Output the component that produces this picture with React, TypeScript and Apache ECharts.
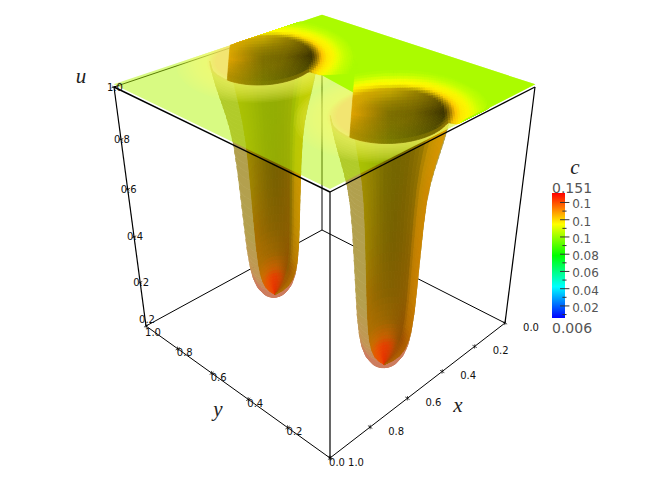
import React, { useEffect, useRef } from "react";
import * as echarts from "echarts";

// ---------- values ----------
const xTicks = [0, 0.2, 0.4, 0.6, 0.8, 1];
const yTicks = [0, 0.2, 0.4, 0.6, 0.8, 1];
const uTicks = [0.2, 0.4, 0.6, 0.8, 1];
const uBottomLabel = "0.2";
const cMajor = [0.02, 0.04, 0.06, 0.08, 0.1, 0.12, 0.14];
const cMajorLabels = ["0.02", "0.04", "0.06", "0.08", "0.1", "0.1", "0.1"];
const cMinor = [0.01, 0.03, 0.05, 0.07, 0.09, 0.11, 0.13];
const cMin = 0.006;
const cMax = 0.151;
// well centres in (x, y), their lean with depth, and how their mouths look
const wellX = [0.48, 0.515];
const wellY = [0.818, 0.195];
const leanX = [0.0016, -0.0113];
const leanY = [-0.0127, -0.0056];
const wellA = [263, 293];
const wellB = [122, 137];
const wellTilt = [-0.05, -0.03];
const rightGold = [1.14, 1.0];
const rimDrop = [0.75, 0.4];
// radial profile of a well: height u and radius r
const profileU = [1.01, 0.97, 0.93, 0.88, 0.82, 0.75, 0.68, 0.58, 0.45, 0.33, 0.22, 0.14, 0.09, 0.05, 0.02, 0, -0.015];
const profileR = [0.205, 0.198, 0.19, 0.178, 0.163, 0.148, 0.138, 0.13, 0.123, 0.117, 0.111, 0.103, 0.094, 0.08, 0.06, 0.034, 0.001];
// colour of the inner (double) part of the wall, by height and screen position
const wallS = [-1, -0.7, -0.35, 0, 0.35, 0.65, 0.82, 1];
const wallZ = [-0.02, 0.03, 0.06, 0.12, 0.25, 0.45, 0.7, 1.01];
const wallColors = [
  ["#f04a00", "#f04000", "#e83000", "#e03000", "#d83800", "#c04000", "#a85000", "#b06000"],
  ["#e06000", "#e85000", "#e84000", "#e04000", "#c84800", "#a05000", "#a05000", "#b06000"],
  ["#c87000", "#c86800", "#c86000", "#c06000", "#a85800", "#905000", "#a05000", "#b06000"],
  ["#b07000", "#a86c00", "#a06800", "#986400", "#905c00", "#905400", "#b06a00", "#c07000"],
  ["#a87000", "#966a00", "#8a6400", "#846000", "#865e00", "#8c5e00", "#bc7800", "#c88000"],
  ["#a08400", "#907400", "#806800", "#786000", "#7e6000", "#8a6400", "#c08000", "#cc8400"],
  ["#a08c00", "#8f7e00", "#7a6c00", "#746500", "#7a6400", "#8c6e00", "#c08a00", "#d08a00"],
  ["#a89000", "#958000", "#7e6c00", "#756500", "#7c6800", "#9a7e00", "#c89a00", "#dca000"],
];
const tanZ = [-0.02, 0.04, 0.12, 0.3, 1.01];
const tanColors = ["#cd7d5f", "#cd7d5f", "#c39655", "#b4a04e", "#b0a04e"];
// colour of the mouth, by radius fraction and direction (right, up, left, down)
const mouthRF = [0, 0.4, 0.7, 0.9, 1, 1.08, 1.18, 1.28, 1.38, 1.5, 1.7];
const mouthColors = [
  ["#7c6e00", "#7c6e00", "#7c6e00", "#7c6e00"],
  ["#706000", "#968000", "#be9000", "#7c7200"],
  ["#504400", "#b89c00", "#e8a800", "#787400"],
  ["#3a3000", "#c8a800", "#f0a800", "#787800"],
  ["#a07800", "#e0d000", "#f8b000", "#808000"],
  ["#ffc000", "#f8f000", "#ffb800", "#d8c800"],
  ["#ffe800", "#ffff00", "#ffd800", "#ffe400"],
  ["#fff400", "#f0ff00", "#ffff00", "#f0ff00"],
  ["#e8ff00", "#d8ff00", "#e8ff00", "#d8ff00"],
  ["#c8ff00", "#c0ff00", "#c8ff00", "#c0ff00"],
  ["#abfb00", "#abfb00", "#abfb00", "#abfb00"],
];
const haloRF = [1.6, 1.55, 1.5, 1.45, 1.4, 1.35, 1.3, 1.25, 1.2, 1.15, 1.1, 1.05];
const peachRF = [1.05, 1.02, 0.99, 0.96, 0.93, 0.9];

// ---------- perspective box ----------
type Pt = number[];
const boxCorners: { k: number[]; p: Pt }[] = [
  { k: [0, 0, 0], p: [330, 458] },
  { k: [1, 0, 0], p: [505, 323] },
  { k: [0, 1, 0], p: [146, 326] },
  { k: [1, 1, 0], p: [322, 230] },
  { k: [0, 0, 1], p: [330, 192] },
  { k: [1, 0, 1], p: [535, 87] },
  { k: [0, 1, 1], p: [114, 87] },
  { k: [1, 1, 1], p: [322, 17] },
];
function project(x: number, y: number, z: number): Pt {
  const a = 1 - x, b = y, c = z;
  let sx = 0, sy = 0, sw = 0;
  for (const { k, p } of boxCorners) {
    const basis = (k[0] ? a : 1 - a) * (k[1] ? b : 1 - b) * (k[2] ? c : 1 - c);
    const w = 1 + 0.19 * k[0] + 0.2 * k[1] - 0.13 * k[2];
    sx += basis * w * p[0];
    sy += basis * w * p[1];
    sw += basis * w;
  }
  return [sx / sw, sy / sw];
}

// ---------- helpers ----------
const hex = (h: string) => [parseInt(h.slice(1, 3), 16), parseInt(h.slice(3, 5), 16), parseInt(h.slice(5, 7), 16)];
const mix = (p: number[], q: number[], t: number) => p.map((v, i) => v + (q[i] - v) * t);
const css = (c: number[]) => `rgb(${Math.round(c[0])},${Math.round(Math.min(255, c[1]))},${Math.round(c[2])})`;
function locate(keys: number[], v: number): [number, number] {
  if (v <= keys[0]) return [0, 0];
  for (let i = 0; i < keys.length - 1; i++) {
    if (v <= keys[i + 1]) return [i, (v - keys[i]) / (keys[i + 1] - keys[i])];
  }
  return [keys.length - 2, 1];
}
function wallColor(z: number, s: number, gold: number) {
  const [i, t] = locate(wallZ, z);
  const [j, u] = locate(wallS, s);
  const c = mix(
    mix(hex(wallColors[i][j]), hex(wallColors[i][j + 1]), u),
    mix(hex(wallColors[i + 1][j]), hex(wallColors[i + 1][j + 1]), u),
    t
  );
  if (s > 0.6) c[1] *= gold;
  return c;
}
function tanColor(z: number) {
  const [i, t] = locate(tanZ, z);
  return mix(hex(tanColors[i]), hex(tanColors[i + 1]), t);
}
function mouthColor(rf: number, deg: number) {
  const [i, t] = locate(mouthRF, rf);
  const a = ((deg % 360) + 360) % 360;
  const j = Math.min(3, Math.floor(a / 90));
  const v = a / 90 - j;
  const j2 = (j + 1) % 4;
  return mix(
    mix(hex(mouthColors[i][j]), hex(mouthColors[i][j2]), v),
    mix(hex(mouthColors[i + 1][j]), hex(mouthColors[i + 1][j2]), v),
    t
  );
}
const plateZ = 1.01;
// local frame on the plate: moving along Eh is screen-right, along Ev screen-down
function localFrame(w: number) {
  const h = 0.001;
  const c = project(wellX[w], wellY[w], 1);
  const px = project(wellX[w] + h, wellY[w], 1);
  const py = project(wellX[w], wellY[w] + h, 1);
  const a = (px[0] - c[0]) / h, b = (py[0] - c[0]) / h, cc = (px[1] - c[1]) / h, d = (py[1] - c[1]) / h;
  const det = a * d - b * cc;
  const solve = (vx: number, vy: number): Pt => [(d * vx - b * vy) / det, (-cc * vx + a * vy) / det];
  return { Eh: solve(wellA[w], wellA[w] * wellTilt[w]), Ev: solve(0, wellB[w]) };
}
const frames = [localFrame(0), localFrame(1)];
const clamp01 = (v: number) => Math.max(0, Math.min(1, v));
const frame = (w: number, e1: number, e2: number, z: number = plateZ): Pt => [
  wellX[w] + e1 * frames[w].Eh[0] + e2 * frames[w].Ev[0] + (plateZ - z) * leanX[w],
  wellY[w] + e1 * frames[w].Eh[1] + e2 * frames[w].Ev[1] + (plateZ - z) * leanY[w],
];
const onPlate = (q: Pt) => project(clamp01(q[0]), clamp01(q[1]), plateZ);

type Item = { pts: Pt[]; fill: string; seal?: boolean };

function levels() {
  const out: { z: number; r: number }[] = [];
  for (let i = 0; i < profileU.length - 1; i++) {
    for (let k = 0; k < 3; k++) {
      const t = k / 3;
      out.push({ z: profileU[i] + (profileU[i + 1] - profileU[i]) * t, r: profileR[i] + (profileR[i + 1] - profileR[i]) * t });
    }
  }
  out.push({ z: profileU[profileU.length - 1], r: profileR[profileR.length - 1] });
  return out;
}

function wallItems(w: number): Item[] {
  const items: Item[] = [];
  const lv = levels();
  // outer single layer, the band between the near arcs of two levels
  const arc = (l: { z: number; r: number }, j: number, n: number): Pt => {
    const ang = Math.PI * (j / n);
    const p = frame(w, l.r * Math.cos(ang), l.r * Math.sin(ang), l.z);
    return project(p[0], p[1], l.z);
  };
  for (let i = 0; i < lv.length - 1; i++) {
    const pts: Pt[] = [];
    for (let j = 0; j <= 16; j++) pts.push(arc(lv[i], j, 16));
    for (let j = 16; j >= 0; j--) pts.push(arc(lv[i + 1], j, 16));
    items.push({ pts, fill: css(tanColor(lv[i + 1].z)), seal: true });
  }
  // inner double layer, the far half seen through the near one
  const scale = 0.82, shift = 0.18;
  const cols = 24;
  const at = (lvl: { z: number; r: number }, s: number): Pt => {
    const c = Math.sqrt(Math.max(0, 1 - s * s));
    const p = frame(w, lvl.r * (shift + scale * s), -lvl.r * scale * c, lvl.z);
    return project(p[0], p[1], lvl.z);
  };
  for (let i = 0; i < lv.length - 1; i++) {
    for (let j = 0; j < cols; j++) {
      const s0 = Math.sin(-Math.PI / 2 + (Math.PI * j) / cols);
      const s1 = Math.sin(-Math.PI / 2 + (Math.PI * (j + 1)) / cols);
      items.push({
        pts: [at(lv[i], s0), at(lv[i], s1), at(lv[i + 1], s1), at(lv[i + 1], s0)],
        fill: css(wallColor((lv[i].z + lv[i + 1].z) / 2, (s0 + s1) / 2, rightGold[w])),
        seal: true,
      });
    }
  }
  return items;
}

function mouthItems(w: number): Item[] {
  const items: Item[] = [];
  const R = profileR[0];
  const cols = 56, rows = 22;
  const uMin = -0.65, uMax = 1.7;
  const vBot = (u: number) => {
    const arc = Math.abs(u) < 1 ? Math.sqrt(1 - u * u) : 0;
    return u > 0 ? Math.max(arc, Math.min(rimDrop[w] * u, 0.75)) : arc;
  };
  const vTop = (u: number) => -Math.sqrt(Math.max(0, uMax * uMax - u * u));
  for (let j = 0; j < cols; j++) {
    const u0 = uMin + ((uMax - uMin) * j) / cols;
    const u1 = uMin + ((uMax - uMin) * (j + 1)) / cols;
    const pos = (u: number, t: number) => {
      const v = vTop(u) + (vBot(u) - vTop(u)) * t;
      return onPlate(frame(w, u * R, v * R));
    };
    for (let i = 0; i < rows; i++) {
      const t0 = i / rows, t1 = (i + 1) / rows;
      const um = (u0 + u1) / 2, tm = (t0 + t1) / 2;
      const vm = vTop(um) + (vBot(um) - vTop(um)) * tm;
      const rf = Math.sqrt(um * um + vm * vm);
      const deg = (Math.atan2(-vm, um) * 180) / Math.PI;
      items.push({
        pts: [pos(u0, t0), pos(u1, t0), pos(u1, t1), pos(u0, t1)],
        fill: css(mouthColor(rf, deg)),
        seal: true,
      });
    }
  }
  return items;
}

function disc(w: number, r: number, fill: string): Item {
  const pts: Pt[] = [];
  for (let j = 0; j < 48; j++) {
    const a = (2 * Math.PI * j) / 48;
    pts.push(onPlate(frame(w, r * Math.cos(a), r * Math.sin(a))));
  }
  return { pts, fill };
}

function edgeHit(w: number, e1: number, e2: number): Pt {
  for (let t = 0; t < 6; t += 0.004) {
    const q = frame(w, e1 * t, e2 * t);
    if (q[0] < 0 || q[0] > 1 || q[1] < 0 || q[1] > 1) return onPlate(q);
  }
  return onPlate(frame(w, e1, e2));
}

function buildOption() {
  const R = profileR[0];
  const plateCorners = [project(1, 1, plateZ), project(0, 1, plateZ), project(0, 0, plateZ), project(1, 0, plateZ)];
  const lines = (list: { a: Pt; b: Pt; w: number }[], z: number) => ({
    type: "custom", coordinateSystem: "cartesian2d", xAxisIndex: 0, yAxisIndex: 0, z, silent: true, clip: false, progressive: 0,
    data: list.map(() => [0, 0]),
    renderItem: (p: any, api: any) => {
      const l = list[p.dataIndex];
      const s = api.coord(l.a), e = api.coord(l.b);
      return { type: "line", silent: true, shape: { x1: s[0], y1: s[1], x2: e[0], y2: e[1] }, style: { stroke: "#000", lineWidth: l.w } };
    },
  });
  const polys = (list: Item[], z: number) => ({
    type: "custom", coordinateSystem: "cartesian2d", xAxisIndex: 0, yAxisIndex: 0, z, silent: true, clip: false, progressive: 0,
    data: list.map(() => [0, 0]),
    renderItem: (p: any, api: any) => {
      const it = list[p.dataIndex];
      return {
        type: "polygon", silent: true,
        shape: { points: it.pts.map((q) => api.coord(q)) },
        style: it.seal ? { fill: it.fill, stroke: it.fill, lineWidth: 0.7 } : { fill: it.fill, stroke: "none" },
      };
    },
  });
  const texts = (list: { t: string; p: Pt; font: string; color: string; align?: string }[], z: number) => ({
    type: "custom", coordinateSystem: "cartesian2d", xAxisIndex: 0, yAxisIndex: 0, z, silent: true, clip: false, progressive: 0,
    data: list.map(() => [0, 0]),
    renderItem: (p: any, api: any) => {
      const l = list[p.dataIndex];
      const c = api.coord(l.p);
      return { type: "text", silent: true, style: { text: l.t, x: c[0], y: c[1], fill: l.color, font: l.font, align: l.align || "center", verticalAlign: "middle" } };
    },
  });

  // back lines
  const backLines = [
    { a: project(1, 1, 0), b: project(0, 1, 0), w: 1 },
    { a: project(0, 0, 0), b: project(0, 1, 0), w: 1 },
    { a: project(0, 1, 0), b: project(0, 1, 1), w: 1 },
    { a: project(1, 1, 1), b: project(0, 1, 1), w: 1 },
  ];
  // front lines
  const frontLines = [
    { a: project(1, 1, 1), b: project(1, 0, 1), w: 1.4 },
    { a: project(1, 0, 1), b: project(0, 0, 1), w: 1.4 },
    { a: project(1, 1, 0), b: project(1, 1, 1), w: 1.2 },
    { a: project(0, 0, 0), b: project(0, 0, 1), w: 1.2 },
    { a: project(1, 0, 0), b: project(1, 0, 1), w: 1.2 },
    { a: project(1, 1, 0), b: project(1, 0, 0), w: 1 },
    { a: project(1, 0, 0), b: project(0, 0, 0), w: 1 },
  ];
  const d = 0.01;
  const tickLines: { a: Pt; b: Pt; w: number }[] = [];
  xTicks.forEach((x) => {
    tickLines.push({ a: project(x, -d, 0), b: project(x, d, 0), w: 0.7 });
    tickLines.push({ a: project(x, 0, -d), b: project(x, 0, d), w: 0.7 });
  });
  yTicks.forEach((y) => {
    tickLines.push({ a: project(1 + d, y, 0), b: project(1 - d, y, 0), w: 0.7 });
    tickLines.push({ a: project(1, y, -d), b: project(1, y, d), w: 0.7 });
  });
  uTicks.forEach((u) => {
    tickLines.push({ a: project(1 + d, 1, u), b: project(1 - d, 1, u), w: 0.7 });
    tickLines.push({ a: project(1, 1 + d, u), b: project(1, 1 - d, u), w: 0.7 });
  });
  const small = "10px 'DejaVu Sans'";
  const labelList: { t: string; p: Pt; font: string; color: string; align?: string }[] = [];
  const shift = (p: Pt, dx: number, dy: number): Pt => [p[0] + dx, p[1] + dy];
  xTicks.forEach((x) => labelList.push({ t: x.toFixed(1), p: shift(project(x, 0, 0), 26, 4), font: small, color: "#111" }));
  yTicks.forEach((y) => labelList.push({ t: y.toFixed(1), p: shift(project(1, y, 0), 7, y === 1 ? 6 : 4), font: small, color: "#111" }));
  uTicks.forEach((u) => labelList.push({ t: u.toFixed(1), p: shift(project(1, 1, u), 1, 0), font: small, color: "#111" }));
  labelList.push({ t: uBottomLabel, p: shift(project(1, 1, 0), 1, -7), font: small, color: "#111" });
  const serif = "italic 21px 'Liberation Serif'";
  labelList.push({ t: "u", p: [81, 76], font: serif, color: "#222" });
  labelList.push({ t: "y", p: [218, 409], font: serif, color: "#222" });
  labelList.push({ t: "x", p: [458, 405], font: serif, color: "#222" });
  labelList.push({ t: "c", p: [575, 167], font: serif, color: "#222" });

  // the part of the plate that looks saturated
  const lime: Item = {
    pts: [
      edgeHit(0, -0.65 * R, -1.5 * R),
      project(0, 1, plateZ),
      project(0, 0, plateZ),
      edgeHit(1, R, R * rimDrop[1]),
      onPlate(frame(1, 0, 0)),
      onPlate(frame(1, -0.66 * R, -0.85 * R)),
      onPlate(frame(0, 1.02 * R, 0.75 * R)),
      onPlate(frame(0, 0, 0)),
      onPlate(frame(0, -0.65 * R, 0)),
    ],
    fill: "#abfb00",
  };
  for (let t = 0; t < 6; t += 0.004) {
    const q = frame(0, -0.65 * R, -t);
    if (q[1] > 1 || q[0] < 0 || q[0] > 1) { lime.pts[0] = onPlate(q); break; }
  }

  const halos: Item[] = [];
  [0, 1].forEach((w) => {
    haloRF.forEach((rf) => halos.push(disc(w, rf * R, "rgba(255,250,120,0.08)")));
    peachRF.forEach((rf) => halos.push(disc(w, rf * R, "rgba(255,205,120,0.07)")));
  });

  const cTicksAll = [
    ...cMajor.map((v) => ({ v, x0: 0.62, x1: 1.34 })),
    ...cMinor.map((v) => ({ v, x0: 0.8, x1: 1.12 })),
  ];
  const colorBar = {
    type: "custom", coordinateSystem: "cartesian2d", xAxisIndex: 1, yAxisIndex: 1, z: 20, silent: true, clip: false, progressive: 0,
    data: [[0, cMax]],
    renderItem: (_: any, api: any) => {
      const a = api.coord([0, cMax]), b = api.coord([1, cMin]);
      return {
        type: "rect", silent: true,
        shape: { x: a[0], y: a[1], width: b[0] - a[0], height: b[1] - a[1] },
        style: {
          fill: new echarts.graphic.LinearGradient(0, 0, 0, 1, [
            { offset: 0, color: "#ff0000" },
            { offset: 0.25, color: "#ffff00" },
            { offset: 0.5, color: "#00ff00" },
            { offset: 0.75, color: "#00ffff" },
            { offset: 1, color: "#0000ff" },
          ]),
        },
      };
    },
  };
  const colorTicks = {
    type: "custom", coordinateSystem: "cartesian2d", xAxisIndex: 1, yAxisIndex: 1, z: 21, silent: true, clip: false, progressive: 0,
    data: cTicksAll.map((t) => [t.x0, t.v]),
    renderItem: (p: any, api: any) => {
      const t = cTicksAll[p.dataIndex];
      const a = api.coord([t.x0, t.v]), b = api.coord([t.x1, t.v]);
      return { type: "line", silent: true, shape: { x1: a[0], y1: a[1], x2: b[0], y2: b[1] }, style: { stroke: "#333", lineWidth: 1 } };
    },
  };
  const colorLabelList = [
    ...cMajor.map((v, i) => ({ v, x: 1.55, t: cMajorLabels[i], size: 12, dy: 2 })),
    { v: cMax, x: 0, t: "0.151", size: 14, dy: -5 },
    { v: cMin, x: 0, t: "0.006", size: 14, dy: 10 },
  ];
  const colorLabels = {
    type: "custom", coordinateSystem: "cartesian2d", xAxisIndex: 1, yAxisIndex: 1, z: 21, silent: true, clip: false, progressive: 0,
    data: colorLabelList.map((t) => [t.x, t.v]),
    renderItem: (p: any, api: any) => {
      const t = colorLabelList[p.dataIndex];
      const a = api.coord([t.x, t.v]);
      return { type: "text", silent: true, style: { text: t.t, x: a[0], y: a[1] + t.dy, fill: "#555", font: `${t.size}px 'DejaVu Sans'`, align: "left", verticalAlign: "middle" } };
    },
  };

  return {
    animation: false,
    backgroundColor: "#fff",
    grid: [
      { left: 0, top: 0, width: 655, height: 495 },
      { left: 552, top: 193, width: 13, height: 125 },
    ],
    xAxis: [
      { type: "value", min: 0, max: 655, show: false },
      { type: "value", min: 0, max: 1, show: false, gridIndex: 1 },
    ],
    yAxis: [
      { type: "value", min: 0, max: 495, inverse: true, show: false },
      { type: "value", min: cMin, max: cMax, show: false, gridIndex: 1 },
    ],
    series: [
      lines(backLines, 1),
      polys(wallItems(0), 2),
      polys(wallItems(1), 3),
      polys([{ pts: plateCorners, fill: "rgba(177,245,5,0.5)" }], 4),
      polys(halos, 5),
      polys([lime], 6),
      polys(mouthItems(0), 7),
      polys(mouthItems(1), 8),
      lines(frontLines, 10),
      lines(tickLines, 11),
      texts(labelList, 12),
      colorBar,
      colorTicks,
      colorLabels,
    ],
  };
}

export default function App() {
  const ref = useRef<HTMLDivElement>(null);
  useEffect(() => {
    document.body.style.margin = "0";
    const chart = echarts.init(ref.current!, undefined, { renderer: "svg" });
    chart.setOption(buildOption() as any);
    return () => chart.dispose();
  }, []);
  return <div ref={ref} style={{ width: 655, height: 495 }} />;
}
